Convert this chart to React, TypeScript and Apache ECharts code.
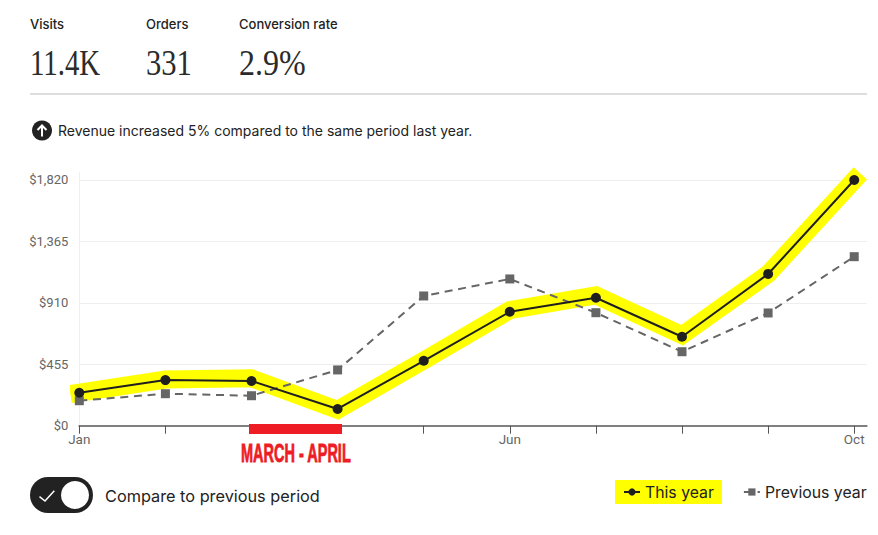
import React, { useEffect, useRef } from "react";
import * as echarts from "echarts";

const months = ["Jan", "Feb", "Mar", "Apr", "May", "Jun", "Jul", "Aug", "Sep", "Oct"];
const thisYear = [244, 338, 331, 124, 481, 844, 948, 659, 1124, 1820];
const highlightBand = [244, 342, 351, 117, 483, 856, 965, 670, 1124, 1820];
const previousYear = [185, 237, 222, 413, 961, 1087, 837, 548, 835, 1252];
const yTicks = [0, 455, 910, 1365, 1820];
const xLabelIndexes = [0, 5, 9];
const xTickIndexes = [0, 1, 2, 3, 4, 5, 6, 7, 8, 9];
const kpiLabels = ["Visits", "Orders", "Conversion rate"];
const kpiValues = ["11.4K", "331", "2.9%"];

const kpiX = [30, 146, 239];
const kpiScale = [0.8, 0.85, 0.89];
const SANS = "Inter, 'Noto Sans', sans-serif";
const INK = "#222222";
const pairs = (vals: number[]) => vals.map((v, i) => [i, v]);

export default function App() {
  const ref = useRef<HTMLDivElement>(null);
  useEffect(() => {
    const chart = echarts.init(ref.current!, undefined, { renderer: "svg" });
    const graphic: any[] = [];
    kpiLabels.forEach((label, i) => {
      graphic.push({
        type: "text", x: kpiX[i], y: 24, z: 10,
        style: { text: label, fontFamily: SANS, fontSize: 13, fontWeight: 500, fill: INK, verticalAlign: "middle" },
      });
      graphic.push({
        type: "text", x: kpiX[i], y: 63, z: 10, scaleX: kpiScale[i],
        style: { text: kpiValues[i], fontFamily: "'Liberation Serif', serif", fontSize: 36, fill: "#2b2b2b", verticalAlign: "middle" },
      });
    });
    graphic.push(
      { type: "rect", z: 1, shape: { x: 30, y: 93, width: 837, height: 2 }, style: { fill: "#dddddd" } },
      { type: "circle", z: 10, shape: { cx: 42, cy: 130.5, r: 10 }, style: { fill: INK } },
      { type: "polyline", z: 11, shape: { points: [[42, 136.5], [42, 125.5]] }, style: { stroke: "#fff", lineWidth: 2, fill: "none" } },
      { type: "polyline", z: 11, shape: { points: [[37.5, 130], [42, 125.5], [46.5, 130]] }, style: { stroke: "#fff", lineWidth: 2, fill: "none" } },
      {
        type: "text", x: 58, y: 130, z: 10,
        style: { text: "Revenue increased 5% compared to the same period last year.", fontFamily: SANS, fontSize: 14, fill: INK, verticalAlign: "middle" },
      },
      { type: "rect", z: 10, shape: { x: 249, y: 424, width: 93, height: 10 }, style: { fill: "#ee1c25" } },
      {
        type: "text", x: 241, y: 453.5, z: 10, scaleX: 0.58,
        style: { text: "MARCH - APRIL", fontFamily: "'Liberation Sans', sans-serif", fontWeight: 700, fontSize: 25, fill: "#ee1c25", stroke: "#ee1c25", lineWidth: 0.8, verticalAlign: "middle" },
      },
      { type: "rect", z: 1, shape: { x: 30, y: 477, width: 63, height: 36, r: 18 }, style: { fill: INK } },
      { type: "circle", z: 2, shape: { cx: 75, cy: 495, r: 14 }, style: { fill: "#fff" } },
      { type: "polyline", z: 2, shape: { points: [[39.5, 496.7], [45, 501], [54.3, 490.7]] }, style: { stroke: "#fff", lineWidth: 1.5, fill: "none" } },
      {
        type: "text", x: 105, y: 496, z: 10,
        style: { text: "Compare to previous period", fontFamily: SANS, fontSize: 16.3, fill: INK, verticalAlign: "middle" },
      },
      { type: "rect", z: 0, shape: { x: 615, y: 480, width: 107, height: 24 }, style: { fill: "#ffff00" } },
    );

    chart.setOption({
      animation: false,
      backgroundColor: "#ffffff",
      grid: { left: 79.3, right: 11.3, top: 172.7, bottom: 109.3 },
      xAxis: {
        type: "value", min: 0, max: 9.145,
        splitLine: { show: false },
        axisLine: { show: true, lineStyle: { color: "#808080", width: 2 } },
        axisTick: { show: true, length: 8, customValues: xTickIndexes, lineStyle: { color: "#555555", width: 1 } },
        axisLabel: {
          customValues: xLabelIndexes, margin: 6, color: "#666666", fontFamily: "Roboto, sans-serif", fontSize: 13.5,
          formatter: (v: number) => months[v] ?? "",
        },
      },
      yAxis: {
        type: "value", min: 0, max: 1874,
        axisLine: { show: true, lineStyle: { color: "#eeeeee", width: 1 } },
        axisTick: { show: false, customValues: yTicks },
        splitLine: { show: true, lineStyle: { color: "#eeeeee", width: 1 } },
        axisLabel: {
          customValues: yTicks, margin: 11, color: "#666666", fontFamily: "Roboto, sans-serif", fontSize: 13,
          formatter: (v: number) => "$" + v.toLocaleString("en-US"),
        },
      },
      legend: {
        show: true, left: 623, top: 484, padding: 0, itemWidth: 16, itemHeight: 9, itemGap: 29,
        data: ["This year", "Previous year"],
        textStyle: { fontFamily: SANS, fontSize: 15.8, color: INK },
      },
      series: [
        {
          name: "Highlight", type: "line", data: pairs(highlightBand), showSymbol: false, symbol: "none", clip: false, z: 1, silent: true,
          lineStyle: { color: "#ffff00", width: 18, cap: "square", join: "miter" },
          itemStyle: { color: "#ffff00" },
        },
        {
          name: "Previous year", type: "line", data: pairs(previousYear), clip: false, z: 2,
          symbol: "rect", symbolSize: 9,
          lineStyle: { color: "#666666", width: 2, type: [8, 5.7] },
          itemStyle: { color: "#666666" },
        },
        {
          name: "This year", type: "line", data: pairs(thisYear), clip: false, z: 3,
          symbol: "circle", symbolSize: 10,
          lineStyle: { color: "#1f1f1f", width: 2 },
          itemStyle: { color: "#1f1f1f" },
        },
      ],
      graphic,
    });
    return () => chart.dispose();
  }, []);
  return <div ref={ref} style={{ position: "absolute", left: 0, top: 0, width: 878, height: 535 }} />;
}
